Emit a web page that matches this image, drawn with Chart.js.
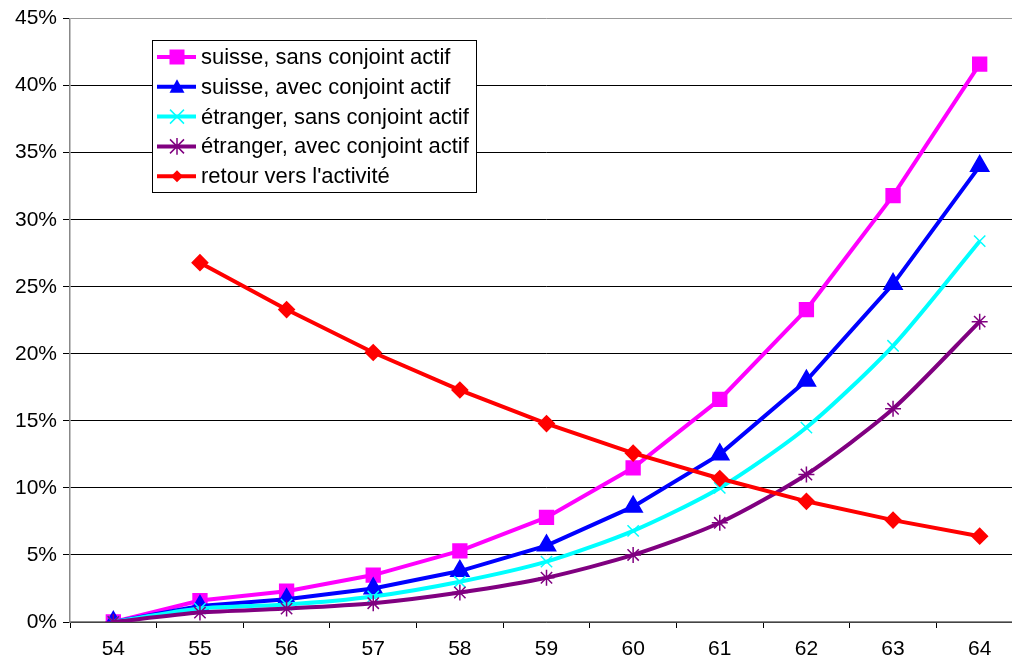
<!DOCTYPE html>
<html>
<head>
<meta charset="utf-8">
<script src="https://cdn.jsdelivr.net/npm/chart.js@4/dist/chart.umd.min.js"></script>
<style>
  html, body { margin: 0; padding: 0; background: #fff; overflow: hidden; width: 1012px; height: 666px; }
  #wrap { position: absolute; left: 0; top: 0; width: 1023px; height: 666px; }
</style>
</head>
<body>
<div id="wrap"><canvas id="myChart"></canvas></div>
<script>
// ages
var ages = ['54', '55', '56', '57', '58', '59', '60', '61', '62', '63', '64'];
// values in %
var suisseSans = [0, 1.6, 2.3, 3.5, 5.3, 7.8, 11.5, 16.6, 23.3, 31.8, 41.6];
var suisseAvec = [0, 1.2, 1.7, 2.5, 3.8, 5.7, 8.6, 12.5, 18.0, 25.2, 34.0];
var etrangerSans = [0, 1.0, 1.3, 1.9, 3.0, 4.5, 6.8, 10.0, 14.5, 20.6, 28.4];
var etrangerAvec = [0, 0.7, 1.0, 1.4, 2.2, 3.3, 5.0, 7.4, 11.0, 15.9, 22.4];
var retour = [null, 26.8, 23.3, 20.1, 17.3, 14.8, 12.6, 10.7, 9.0, 7.6, 6.4];
var yTicks = [0, 5, 10, 15, 20, 25, 30, 35, 40, 45];

const FONT = 'Arial, "Liberation Sans", sans-serif';

function drawMarker(ctx, style, x, y, r, color) {
    ctx.save();
    ctx.fillStyle = color;
    ctx.strokeStyle = color;
    ctx.lineWidth = 1.5;
    ctx.beginPath();
    if (style === 'rect') {
        ctx.fillRect(x - r, y - r, 2 * r, 2 * r);
    } else if (style === 'triangle') {
        ctx.moveTo(x, y - r);
        ctx.lineTo(x + r, y + r * 0.8);
        ctx.lineTo(x - r, y + r * 0.8);
        ctx.closePath();
        ctx.fill();
    } else if (style === 'crossRot') {
        ctx.moveTo(x - r, y - r); ctx.lineTo(x + r, y + r);
        ctx.moveTo(x + r, y - r); ctx.lineTo(x - r, y + r);
        ctx.stroke();
    } else if (style === 'star') {
        ctx.moveTo(x - r, y - r); ctx.lineTo(x + r, y + r);
        ctx.moveTo(x + r, y - r); ctx.lineTo(x - r, y + r);
        ctx.moveTo(x, y - r * 1.2); ctx.lineTo(x, y + r * 1.2);
        ctx.stroke();
    } else if (style === 'rectRot') {
        ctx.moveTo(x, y - r); ctx.lineTo(x + r, y);
        ctx.lineTo(x, y + r); ctx.lineTo(x - r, y);
        ctx.closePath();
        ctx.fill();
    }
    ctx.restore();
}

// legend drawn inside the plot, as in the original
const legendBox = {
    id: 'legendBox',
    afterDraw(chart) {
        const ctx = chart.ctx;
        const x0 = 152, y0 = 40, w = 324, h = 152;
        ctx.save();
        ctx.fillStyle = '#fff';
        ctx.fillRect(x0, y0, w, h);
        ctx.strokeStyle = '#000';
        ctx.lineWidth = 1;
        ctx.strokeRect(x0 + 0.5, y0 + 0.5, w, h);
        ctx.font = '22px ' + FONT;
        ctx.textBaseline = 'middle';
        chart.data.datasets.forEach(function(ds, i) {
            const y = y0 + 17 + i * 29.8;
            ctx.strokeStyle = ds.borderColor;
            ctx.lineWidth = 4;
            ctx.beginPath();
            ctx.moveTo(157, y);
            ctx.lineTo(196, y);
            ctx.stroke();
            drawMarker(ctx, ds.pointStyle, 177, y, ds.legendR, ds.borderColor);
            ctx.fillStyle = '#000';
            ctx.fillText(ds.label, 201, y + 1);
        });
        ctx.restore();
    }
};

const ctx = document.getElementById('myChart');
const myChart = new Chart(ctx, {
    type: 'line',
    data: {
        labels: ages,
        datasets: [{
            label: 'suisse, sans conjoint actif',
            data: suisseSans,
            borderColor: '#FF00FF',
            backgroundColor: '#FF00FF',
            pointStyle: 'rect',
            pointRadius: 8,
            legendR: 7.5,
            order: 5
        }, {
            label: 'suisse, avec conjoint actif',
            data: suisseAvec,
            borderColor: '#0000FF',
            backgroundColor: '#0000FF',
            pointStyle: 'triangle',
            pointRadius: 8,
            legendR: 7.5,
            order: 4
        }, {
            label: 'étranger, sans conjoint actif',
            data: etrangerSans,
            borderColor: '#00FFFF',
            backgroundColor: '#00FFFF',
            pointStyle: 'crossRot',
            pointRadius: 8,
            pointBorderWidth: 1.5,
            tension: 0.25,
            legendR: 7,
            order: 3
        }, {
            label: 'étranger, avec conjoint actif',
            data: etrangerAvec,
            borderColor: '#800080',
            backgroundColor: '#800080',
            pointStyle: 'star',
            pointRadius: 8,
            pointBorderWidth: 1.5,
            tension: 0.25,
            legendR: 7,
            order: 2
        }, {
            label: "retour vers l'activité",
            data: retour,
            borderColor: '#FF0000',
            backgroundColor: '#FF0000',
            pointStyle: 'rectRot',
            pointRadius: 6,
            legendR: 6,
            order: 1
        }]
    },
    options: {
        responsive: true,
        maintainAspectRatio: false,
        animation: false,
        datasets: { line: { borderWidth: 4 } },
        // the plot runs a little past the right edge of the picture
        layout: { autoPadding: false, padding: { top: 18, right: 0, left: 0, bottom: 0 } },
        plugins: {
            legend: { display: false },
            tooltip: { enabled: false }
        },
        scales: {
            x: {
                offset: true,
                grid: {
                    offset: true,
                    drawOnChartArea: false,
                    color: '#000',
                    tickLength: 6
                },
                border: { color: '#888', width: 1.5 },
                ticks: {
                    color: '#000',
                    font: { size: 21, family: FONT },
                    padding: 9,
                    maxRotation: 0
                },
                afterFit: function(scale) { scale.height = 44; }
            },
            y: {
                min: 0,
                max: 45,
                afterBuildTicks: function(scale) {
                    scale.ticks = yTicks.map(function(v) { return { value: v }; });
                },
                grid: {
                    color: function(c) { return c.tick && c.tick.value === 45 ? '#999' : '#000'; },
                    tickColor: '#000',
                    tickLength: 7
                },
                border: { color: '#888', width: 1.5 },
                ticks: {
                    color: '#000',
                    font: { size: 21, family: FONT },
                    padding: 6,
                    callback: function(v) { return v + '%'; }
                },
                afterFit: function(scale) { scale.width = 70; }
            }
        }
    },
    plugins: [legendBox]
});
</script>
</body>
</html>
